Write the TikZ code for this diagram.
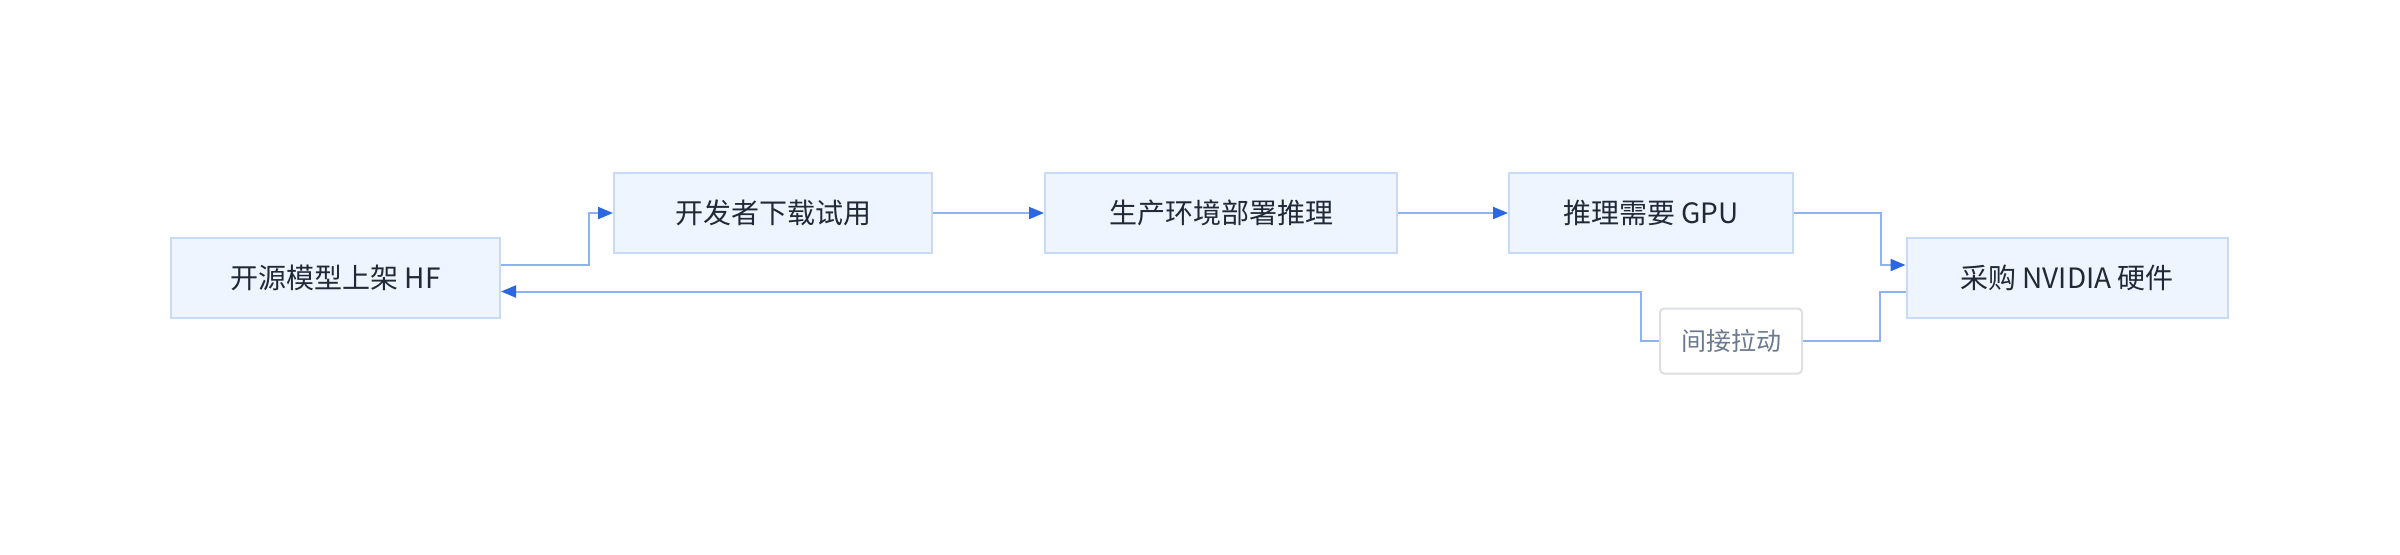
\documentclass[tikz,border=0pt]{standalone}
\usepackage{fontspec}
\setmainfont{Noto Sans CJK SC}
\usetikzlibrary{arrows.meta}
\definecolor{boxfill}{HTML}{EFF5FE}
\definecolor{boxline}{HTML}{C8DAF6}
\definecolor{textdark}{HTML}{1F2937}
\definecolor{linkline}{HTML}{8EB2F2}
\definecolor{linktip}{HTML}{2B67E0}
\definecolor{tagline}{HTML}{DEDFE2}
\definecolor{tagtext}{HTML}{6B7A90}
\tikzset{
 stepbox/.style={draw=boxline, fill=boxfill, line width=1pt, text=textdark,
   minimum height=40pt, inner sep=0pt, font=\fontsize{14pt}{16pt}\selectfont},
 tagbox/.style={draw=tagline, fill=white, line width=1pt, rounded corners=2pt, text=tagtext,
   minimum width=71pt, minimum height=32.5pt, inner sep=0pt, font=\fontsize{12.5pt}{15pt}\selectfont},
 link/.style={draw=linkline, line width=1pt, -{Triangle[length=7.5pt,width=6pt,color=linktip]}}
}
\begin{document}
\begin{tikzpicture}[x=0.5pt,y=-0.5pt]
 \useasboundingbox (0,0) rectangle (2400,554);
 \node[stepbox, minimum width=164.5pt] (hf) at (335.5,278) {开源模型上架 HF};
 \node[stepbox, minimum width=159pt] (dev) at (773,213) {开发者下载试用};
 \node[stepbox, minimum width=176pt] (prod) at (1221,213) {生产环境部署推理};
 \node[stepbox, minimum width=142pt] (gpu) at (1651,213) {推理需要 GPU};
 \node[stepbox, minimum width=160.5pt] (nv) at (2067,278) {采购 NVIDIA 硬件};
 \node[tagbox] (pull) at (1731,341) {间接拉动};
 \draw[link] ([yshift=6.5pt]hf.east) -- ++(88,0) |- (dev.west);
 \draw[link] (dev) -- (prod);
 \draw[link] (prod) -- (gpu);
 \draw[link] (gpu.east) -- ++(87,0) |- ([yshift=6.5pt]nv.west);
 \draw[draw=linkline, line width=1pt] ([yshift=-6.75pt]nv.west) -- ++(-26,0) |- (pull.east);
 \draw[link] (pull.west) -- ++(-18,0) |- ([yshift=-6.75pt]hf.east);
\end{tikzpicture}
\end{document}
